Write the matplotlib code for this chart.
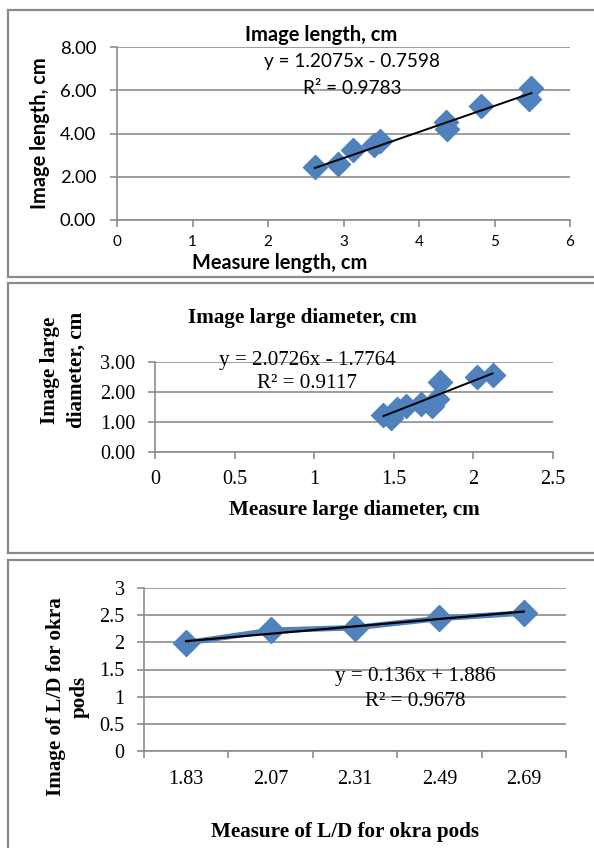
import matplotlib
matplotlib.use("Agg")
import matplotlib.pyplot as plt
from matplotlib.lines import Line2D
import numpy as np

# chart 1: image length vs measure length (cm)
len_measure = [2.62, 2.93, 3.13, 3.40, 3.48, 4.36, 4.37, 4.82, 5.46, 5.49]
len_image = [2.43, 2.57, 3.25, 3.45, 3.64, 4.53, 4.19, 5.26, 5.59, 6.10]
len_fit = (1.2075, -0.7598)

# chart 2: large diameter (cm)
dia_measure = [1.435, 1.485, 1.52, 1.575, 1.67, 1.74, 1.77, 1.79, 2.02, 2.12]
dia_image = [1.23, 1.15, 1.44, 1.55, 1.61, 1.55, 1.78, 2.35, 2.50, 2.56]
dia_fit = (2.0726, -1.7764)

# chart 3: L/D ratio
ld_labels = ["1.83", "2.07", "2.31", "2.49", "2.69"]
ld_image = [1.99, 2.22, 2.27, 2.44, 2.54]
ld_fit = (0.136, 1.886)

W, H = 594, 848
BLUE = "#4F81BD"
GRID = "#8C8C8C"
CAL = ["Lato", "DejaVu Sans"]
TNR = ["Liberation Serif", "DejaVu Serif"]

fig = plt.figure(figsize=(W / 100, H / 100), dpi=100)


def fx(px):
    return px / W


def fy(py):
    return 1 - py / H


def box(x0, y0, x1, y1):
    for xs, ys in [((x0, x1), (y0, y0)), ((x0, x1), (y1, y1)),
                   ((x0, x0), (y0, y1)), ((x1, x1), (y0, y1))]:
        fig.add_artist(Line2D([fx(v) for v in xs], [fy(v) for v in ys],
                              color="#8A8A8A", lw=1.6))


def make_axes(l, t, r, b):
    ax = fig.add_axes([fx(l), fy(b), fx(r) - fx(l), fy(t) - fy(b)])
    for s in ["top", "right"]:
        ax.spines[s].set_visible(False)
    for s in ["left", "bottom"]:
        ax.spines[s].set_color(GRID)
        ax.spines[s].set_linewidth(1.2)
    ax.yaxis.grid(True, color=GRID, lw=1.2)
    ax.set_axisbelow(True)
    ax.tick_params(colors=GRID, length=5, width=1.2)
    return ax


def style_labels(labels, family, size):
    for lab in labels:
        lab.set_fontfamily(family)
        lab.set_fontsize(size)
        lab.set_color("black")


# panel frames
box(8, 10, 600, 277)
box(8, 283, 600, 553)
box(8, 560, 600, 860)

# ---- chart 1
ax1 = make_axes(117, 47, 570, 220)
ax1.scatter(len_measure, len_image, marker="D", s=150, color=BLUE, zorder=3)
xs = np.array([min(len_measure), max(len_measure)])
ax1.plot(xs, len_fit[0] * xs + len_fit[1], color="black", lw=1.4, zorder=4)
ax1.set_xlim(0, 6)
ax1.set_ylim(0, 8)
ax1.set_yticks([0, 2, 4, 6, 8])
ax1.set_yticklabels([f"{v:.2f}" for v in [0, 2, 4, 6, 8]])
ax1.set_xticks(range(7))
ax1.tick_params(axis="y", pad=10)
ax1.tick_params(axis="x", pad=6)
style_labels(ax1.get_yticklabels(), CAL, 13.3)
style_labels(ax1.get_xticklabels(), CAL, 11)
fig.text(fx(321), fy(35), "Image length, cm", family=CAL, weight="bold",
         fontsize=14.5, ha="center", va="center")
fig.text(fx(352), fy(62), "y = 1.2075x - 0.7598", family=CAL, fontsize=13.7,
         ha="center", va="center")
fig.text(fx(352), fy(88), "R² = 0.9783", family=CAL, fontsize=13.7,
         ha="center", va="center")
fig.text(fx(40), fy(133), "Image length, cm", family=CAL, weight="bold",
         fontsize=14.4, ha="center", va="center", rotation=90)
fig.text(fx(280), fy(263), "Measure length, cm", family=CAL, weight="bold",
         fontsize=14.4, ha="center", va="center")

# ---- chart 2
ax2 = make_axes(155, 362, 553, 452)
ax2.scatter(dia_measure, dia_image, marker="D", s=150, color=BLUE, zorder=3)
xs = np.array([min(dia_measure), max(dia_measure)])
ax2.plot(xs, dia_fit[0] * xs + dia_fit[1], color="black", lw=1.4, zorder=4)
ax2.set_xlim(0, 2.5)
ax2.set_ylim(0, 3)
ax2.set_yticks([0, 1, 2, 3])
ax2.set_yticklabels([f"{v:.2f}" for v in [0, 1, 2, 3]])
ax2.set_xticks([0, 0.5, 1, 1.5, 2, 2.5])
ax2.set_xticklabels(["0", "0.5", "1", "1.5", "2", "2.5"])
ax2.tick_params(axis="x", pad=8)
ax2.tick_params(axis="y", pad=9)
style_labels(ax2.get_yticklabels() + ax2.get_xticklabels(), TNR, 14.5)
fig.text(fx(302), fy(318), "Image large diameter, cm", family=TNR, weight="bold",
         fontsize=15.2, ha="center", va="center")
fig.text(fx(307), fy(360), "y = 2.0726x - 1.7764", family=TNR, fontsize=15.2,
         ha="center", va="center")
fig.text(fx(307), fy(384), "R² = 0.9117", family=TNR, fontsize=15.2,
         ha="center", va="center")
fig.text(fx(63), fy(370), "Image large\ndiameter, cm", family=TNR, weight="bold",
         fontsize=15.2, ha="center", va="center", rotation=90, linespacing=1.45)
fig.text(fx(354), fy(510), "Measure large diameter, cm", family=TNR, weight="bold",
         fontsize=15.2, ha="center", va="center")

# ---- chart 3
ax3 = make_axes(144, 588, 566, 751)
idx = np.arange(len(ld_labels))
ax3.plot(idx, ld_image, color=BLUE, lw=4, marker="D", ms=13, zorder=3)
xs = np.array([1, len(ld_labels)])
ax3.plot(xs - 1, ld_fit[0] * xs + ld_fit[1], color="black", lw=1.6, zorder=4)
ax3.set_xlim(-0.5, len(ld_labels) - 0.5)
ax3.set_ylim(0, 3)
ax3.set_yticks([0, 0.5, 1, 1.5, 2, 2.5, 3])
ax3.set_yticklabels(["0", "0.5", "1", "1.5", "2", "2.5", "3"])
ax3.set_xticks(np.arange(len(ld_labels) + 1) - 0.5)
ax3.set_xticklabels([])
ax3.set_xticks(idx, minor=True)
ax3.set_xticklabels(ld_labels, minor=True)
ax3.tick_params(axis="x", which="minor", length=0, pad=14)
ax3.tick_params(axis="y", pad=9)
style_labels(ax3.get_yticklabels() + ax3.get_xticklabels(minor=True), TNR, 14.5)
fig.text(fx(68), fy(697), "Image of L/D for okra\npods", family=TNR, weight="bold",
         fontsize=15.2, ha="center", va="center", rotation=90, linespacing=1.25)
fig.text(fx(345), fy(832), "Measure of L/D for okra pods", family=TNR, weight="bold",
         fontsize=15.2, ha="center", va="center")
fig.text(fx(415), fy(677), "y = 0.136x + 1.886", family=TNR, fontsize=15.2,
         ha="center", va="center")
fig.text(fx(415), fy(702), "R² = 0.9678", family=TNR, fontsize=15.2,
         ha="center", va="center")

fig.savefig("out.png", dpi=100)
